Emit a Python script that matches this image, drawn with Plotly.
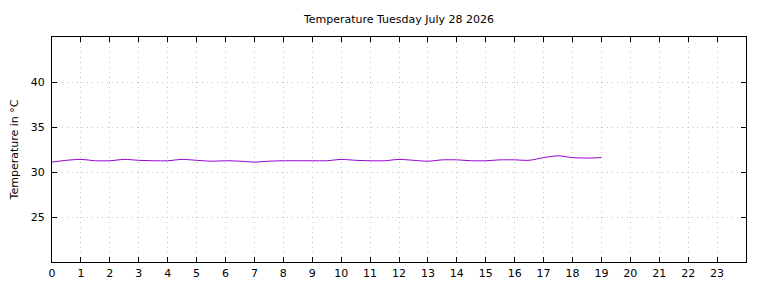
import plotly.graph_objects as go

hours = [0, 0.5, 1, 1.5, 2, 2.5, 3, 3.5, 4, 4.5, 5, 5.5, 6, 6.5, 7, 7.5, 8, 8.5, 9, 9.5,
         10, 10.5, 11, 11.5, 12, 12.5, 13, 13.5, 14, 14.5, 15, 15.5, 16, 16.5, 17, 17.5,
         18, 18.5, 19]
temps = [31.1, 31.3, 31.4, 31.25, 31.25, 31.4, 31.3, 31.25, 31.25, 31.4, 31.3, 31.2,
         31.25, 31.2, 31.1, 31.2, 31.25, 31.25, 31.25, 31.25, 31.4, 31.3, 31.25, 31.25,
         31.4, 31.3, 31.2, 31.35, 31.35, 31.25, 31.25, 31.35, 31.35, 31.3, 31.6, 31.8,
         31.6, 31.55, 31.6]
x_ticks = list(range(0, 24))
y_ticks = [25, 30, 35, 40]

fig = go.Figure()
fig.add_trace(go.Scatter(x=hours, y=temps, mode="lines",
                         line=dict(color="#9400D3", width=1, shape="spline", smoothing=0.8),
                         hoverinfo="skip", showlegend=False))

axis_common = dict(showline=True, linecolor="black", linewidth=1, mirror="ticks",
                   ticks="inside", ticklen=5, tickcolor="black", tickwidth=1,
                   showgrid=True, gridcolor="#c4c4c4", griddash="1px,4px", gridwidth=1,
                   zeroline=False, automargin=False,
                   tickfont=dict(family="DejaVu Sans", size=11, color="black"))

fig.update_xaxes(range=[0, 24], tickvals=x_ticks, ticktext=[str(t) for t in x_ticks],
                 ticklabelstandoff=1, **axis_common)
fig.update_yaxes(range=[20, 45], tickvals=y_ticks, ticktext=[str(t) for t in y_ticks],
                 ticklabelstandoff=4,
                 title=dict(text="Temperature in °C", font=dict(family="DejaVu Sans", size=11, color="black"),
                            standoff=9),
                 **axis_common)

fig.update_layout(
    width=768, height=288,
    margin=dict(l=52, r=22, t=37, b=26, pad=0),
    paper_bgcolor="white", plot_bgcolor="white",
    title=dict(text="Temperature Tuesday July 28 2026", x=0.5, xref="paper", xanchor="center",
               y=1 - 19 / 288, yanchor="middle",
               font=dict(family="DejaVu Sans", size=11, color="black")),
)

fig.write_html("out.html")
